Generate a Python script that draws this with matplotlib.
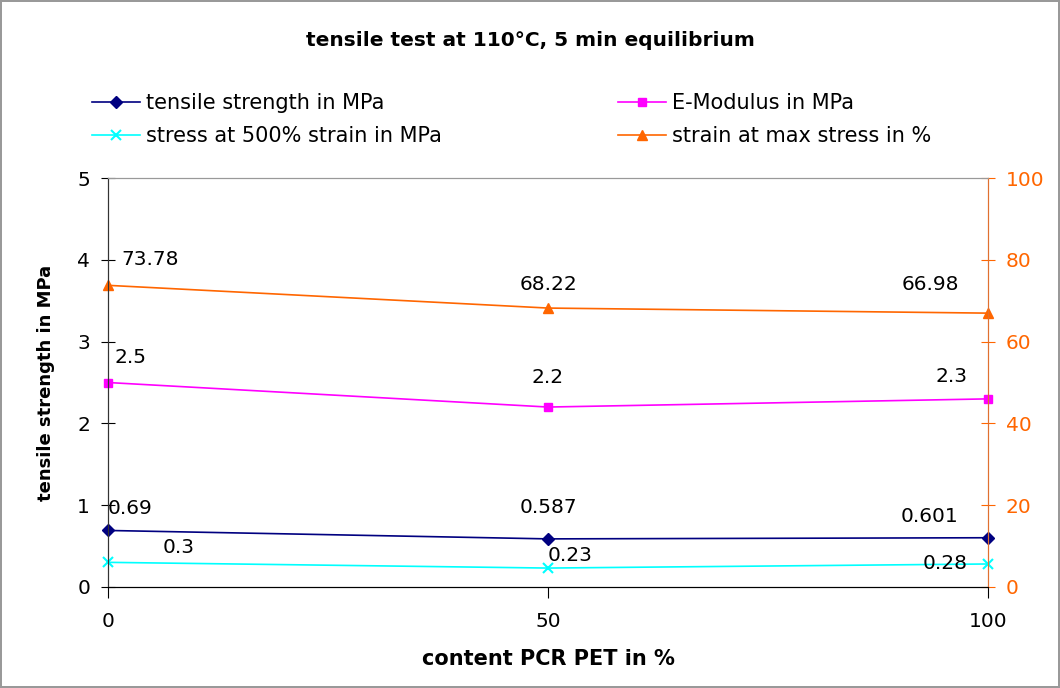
import matplotlib
matplotlib.use('Agg')
import matplotlib.pyplot as plt

plt.rcParams['font.family'] = ['DejaVu Sans']

# Données
pcr_content = [0, 50, 100]
tensile_strength = [0.69, 0.587, 0.601]
e_modulus = [2.5, 2.2, 2.3]
stress_500 = [0.3, 0.23, 0.28]
strain_max = [73.78, 68.22, 66.98]

orange = '#FF6600'
fs = 14

fig = plt.figure(figsize=(10.6, 6.88), dpi=100)
fig.patch.set_edgecolor('#999999')
fig.patch.set_linewidth(1.5)
ax = fig.add_axes([0.102, 0.147, 0.830, 0.594])
ax2 = ax.twinx()

l1, = ax.plot(pcr_content, tensile_strength, color='#000080', marker='D', ms=6, lw=1.2,
              label='tensile strength in MPa', clip_on=False)
l2, = ax.plot(pcr_content, e_modulus, color='#FF00FF', marker='s', ms=6, lw=1.2,
              label='E-Modulus in MPa', clip_on=False)
l3, = ax.plot(pcr_content, stress_500, color='#00FFFF', marker='x', ms=7, mew=1.5, lw=1.2,
              label='stress at 500% strain in MPa', clip_on=False)
l4, = ax2.plot(pcr_content, strain_max, color=orange, marker='^', ms=7, lw=1.2,
               label='strain at max stress in %', clip_on=False)

# étiquettes de valeurs (décalages en pixels)
def label(axis, xs, ys, offsets):
    for x, y, (dx, dy) in zip(xs, ys, offsets):
        axis.annotate(f'{y:g}', (x, y), xytext=(dx, dy), textcoords='offset pixels',
                      ha='center', va='center', fontsize=fs + 0.5)

label(ax2, pcr_content, strain_max, [(42, 26), (0, 24), (-58, 29)])
label(ax, pcr_content, e_modulus, [(22, 25), (0, 30), (-36, 22)])
label(ax, pcr_content, tensile_strength, [(22, 22), (0, 31), (-58, 21)])
label(ax, pcr_content, stress_500, [(71, 15), (22, 13), (-43, 0)])

ax.set_xlim(0, 100)
ax.set_ylim(0, 5)
ax2.set_ylim(0, 100)
ax.set_xticks(pcr_content)
ax.set_yticks(range(6))
ax2.set_yticks(range(0, 101, 20))

ax.tick_params(axis='y', direction='inout', length=10, labelsize=fs + 0.5, pad=8)
ax.tick_params(axis='x', direction='out', length=8, labelsize=fs + 0.5, pad=10)
ax2.tick_params(axis='y', direction='inout', length=10, labelsize=fs + 0.5, pad=8,
                colors=orange)

for a in (ax, ax2):
    a.spines['top'].set_color('#999999')
    a.spines['left'].set_color('#333333')
    a.spines['bottom'].set_color('black')
    a.spines['right'].set_color('#E07030')

ax.set_ylabel('tensile strength in MPa', fontsize=13, fontweight='bold', labelpad=16)
ax.set_xlabel('content PCR PET in %', fontsize=15, fontweight='bold', labelpad=13)
fig.suptitle('tensile test at 110°C, 5 min equilibrium', fontsize=14.5,
             fontweight='bold', y=0.955)

fig.legend(handles=[l1, l3, l2, l4], ncol=2, loc='upper left',
           bbox_to_anchor=(0.069, 0.892), frameon=False, fontsize=15,
           handlelength=2.3, handletextpad=0.3, columnspacing=8.45, labelspacing=0.62)

fig.savefig('out.png', dpi=100, edgecolor=fig.get_edgecolor())
